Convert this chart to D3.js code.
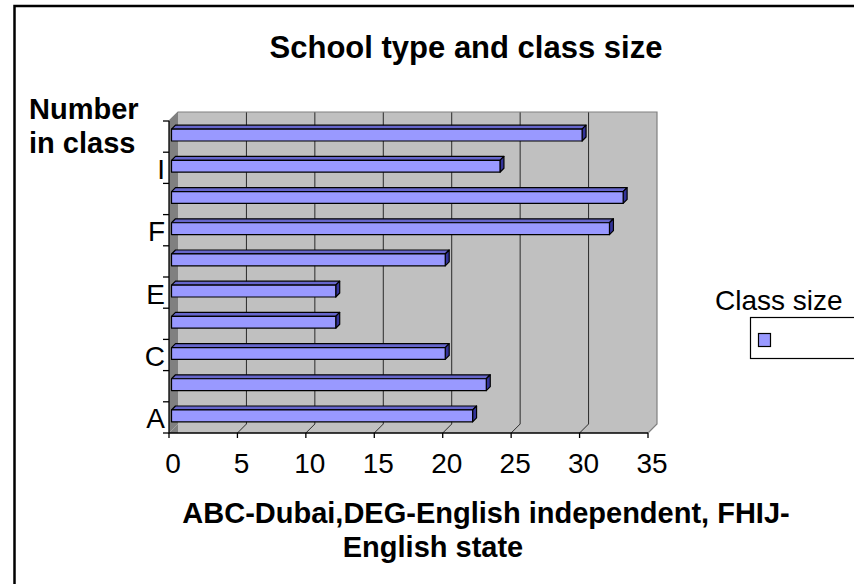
<!DOCTYPE html>
<html>
<head>
<meta charset="utf-8">
<script src="https://cdn.jsdelivr.net/npm/d3@7"></script>
<style>
  html, body { margin: 0; padding: 0; background: #fff; }
  svg { display: block; font-family: "Liberation Sans", Arial, sans-serif; }
</style>
</head>
<body>
<svg id="chart" width="854" height="584"></svg>
<script>
// Schools, bottom to top
const categories = ["A", "B", "C", "D", "E", "G", "F", "H", "I", "J"];
// Number of pupils in class
const classSize = [22, 23, 20, 12, 12, 20, 32, 33, 24, 30];
// Only every other school is labelled on the axis
const categoryLabels = ["A", "C", "E", "F", "I"];
const xTicks = [0, 5, 10, 15, 20, 25, 30, 35];
const seriesName = "Class size";
const titleText = "School type and class size";
const yTitleLines = ["Number", "in class"];
const xTitleLines = ["ABC-Dubai,DEG-English independent, FHIJ-", "English state"];

const svg = d3.select("#chart");

// chart-area frame (runs off the right and bottom edges)
svg.append("rect")
  .attr("x", 14.5).attr("y", 6).attr("width", 1000).attr("height", 1000)
  .attr("fill", "#fff").attr("stroke", "#000").attr("stroke-width", 2.5);

// front-plane scales
const x = d3.scaleLinear().domain([0, 35]).range([169, 648]);
const y = d3.scaleBand().domain(categories).range([433, 121]).padding(0);
const D = { x: 9, y: -9 };            // wall depth offset
const off = t => ({ x: D.x * t, y: D.y * t });

const x0 = x(0), x1 = x(35), yTop = y.range()[1], yBot = y.range()[0];

// back wall
svg.append("rect")
  .attr("x", x0 + D.x).attr("y", yTop + D.y)
  .attr("width", x1 - x0).attr("height", yBot - yTop)
  .attr("fill", "#c0c0c0");

// left side wall
svg.append("polygon")
  .attr("points", [[x0, yTop], [x0 + D.x, yTop + D.y], [x0 + D.x, yBot + D.y], [x0, yBot]].join(" "))
  .attr("fill", "#808080");

// floor
svg.append("polygon")
  .attr("points", [[x0, yBot], [x0 + D.x, yBot + D.y], [x1 + D.x, yBot + D.y], [x1, yBot]].join(" "))
  .attr("fill", "#c0c0c0");
svg.append("polygon")
  .attr("points", [[x0, yBot], [x0 + D.x, yBot + D.y], [x0 + D.x, yBot]].join(" "))
  .attr("fill", "#808080");

// vertical gridlines on the wall and across the floor
const grid = svg.append("g").attr("stroke", "#2a2a2a").attr("stroke-width", 1).attr("fill", "none");
xTicks.filter(v => v > 0 && v < 35).forEach(v => {
  grid.append("path")
    .attr("d", `M${x(v) + D.x},${yTop + D.y}L${x(v) + D.x},${yBot + D.y}L${x(v)},${yBot}`);
});

// wall outline
svg.append("path")
  .attr("d", `M${x0},${yTop}L${x0 + D.x},${yTop + D.y}L${x1 + D.x},${yTop + D.y}L${x1 + D.x},${yBot + D.y}L${x1},${yBot}`)
  .attr("fill", "none").attr("stroke", "#808080").attr("stroke-width", 1.2);

// bars (3-D boxes)
const tF = 0.28, tB = 0.72;
const barH = y.bandwidth() * 0.38;
const bars = svg.append("g").attr("stroke", "#000").attr("stroke-width", 1.2).attr("stroke-linejoin", "round");
categories.forEach((c, i) => {
  const v = classSize[i];
  const f = off(tF), b = off(tB);
  const yc = y(c) + y.bandwidth() / 2 + 1;
  const xa = x(0) + f.x, xb = x(v) + f.x;
  const ya = yc - barH / 2 + f.y, yb = yc + barH / 2 + f.y;
  const dx = b.x - f.x, dy = b.y - f.y;
  // top face
  bars.append("polygon")
    .attr("points", [[xa, ya], [xa + dx, ya + dy], [xb + dx, ya + dy], [xb, ya]].join(" "))
    .attr("fill", "#6666cc");
  // end face
  bars.append("polygon")
    .attr("points", [[xb, ya], [xb + dx, ya + dy], [xb + dx, yb + dy], [xb, yb]].join(" "))
    .attr("fill", "#333399");
  // front face
  bars.append("rect")
    .attr("x", xa).attr("y", ya).attr("width", xb - xa).attr("height", yb - ya)
    .attr("fill", "#9999ff");
});

// axes
const axes = svg.append("g").attr("stroke", "#000").attr("stroke-width", 1.3).attr("fill", "none");
axes.append("path").attr("d", `M${x0},${yTop}L${x0},${yBot}L${x1},${yBot}`);
xTicks.forEach(v => axes.append("path").attr("d", `M${x(v)},${yBot}L${x(v)},${yBot + 5}`));
const bounds = categories.map(c => y(c)).concat([yBot]);
bounds.forEach(yy => axes.append("path").attr("d", `M${x0 - 6},${yy}L${x0},${yy}`));

// x tick labels
svg.append("g").selectAll("text").data(xTicks).join("text")
  .attr("x", d => x(d) + 4).attr("y", yBot + 40)
  .attr("text-anchor", "middle").attr("font-size", 28).attr("fill", "#000")
  .text(d => d);

// category labels
svg.append("g").selectAll("text").data(categoryLabels).join("text")
  .attr("x", x0 - 4).attr("y", d => y(d) + y.bandwidth() / 2 + 11)
  .attr("text-anchor", "end").attr("font-size", 28).attr("fill", "#000")
  .text(d => d);

// title
svg.append("text")
  .attr("x", 466).attr("y", 58)
  .attr("text-anchor", "middle").attr("font-size", 31).attr("font-weight", "bold")
  .text(titleText);

// y-axis title
svg.append("text").attr("font-size", 29).attr("font-weight", "bold")
  .selectAll("tspan").data(yTitleLines).join("tspan")
  .attr("x", 29).attr("y", (d, i) => 119 + i * 34).text(d => d);

// x-axis title
svg.append("text").attr("font-size", 29).attr("font-weight", "bold").attr("text-anchor", "middle")
  .selectAll("tspan").data(xTitleLines).join("tspan")
  .attr("x", (d, i) => i === 0 ? 486 : 433).attr("y", (d, i) => 523 + i * 34).text(d => d);

// legend
svg.append("text").attr("x", 715).attr("y", 310).attr("font-size", 28).text(seriesName);
svg.append("rect").attr("x", 750.5).attr("y", 317.5).attr("width", 200).attr("height", 41)
  .attr("fill", "#fff").attr("stroke", "#000").attr("stroke-width", 1.2);
svg.append("rect").attr("x", 758.5).attr("y", 333.5).attr("width", 12).attr("height", 13)
  .attr("fill", "#9999ff").attr("stroke", "#000").attr("stroke-width", 1.2);
</script>
</body>
</html>
